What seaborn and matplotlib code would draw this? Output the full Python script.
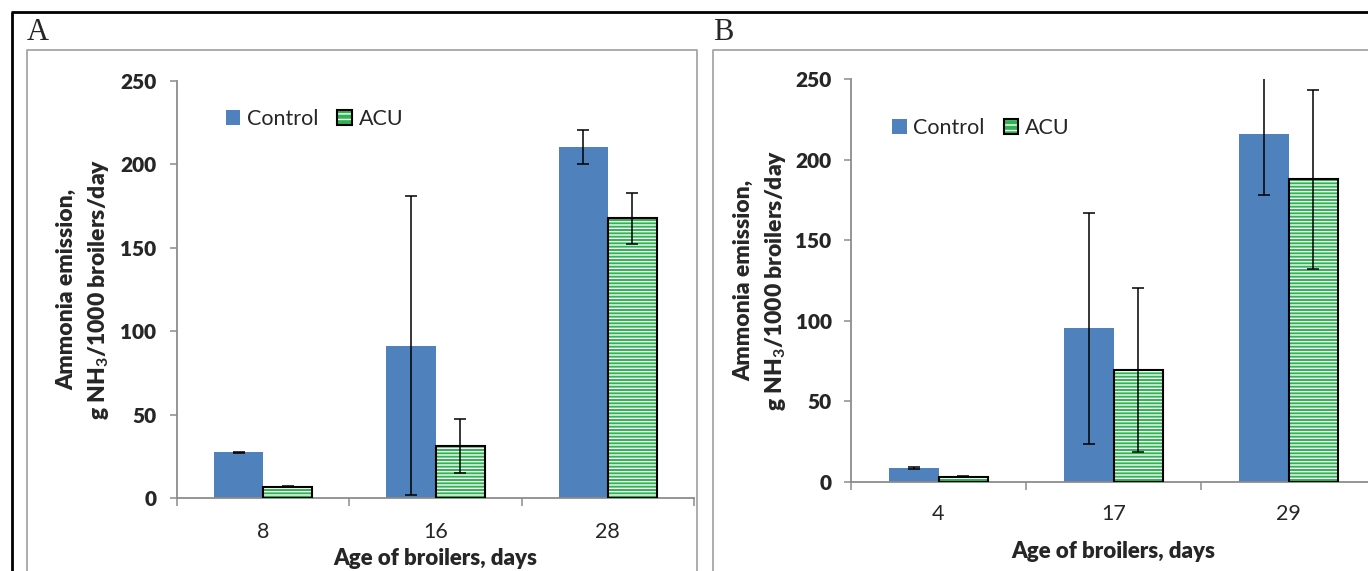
import pandas as pd
import matplotlib
matplotlib.use("Agg")
import matplotlib.pyplot as plt
import seaborn as sns
from matplotlib.patches import Patch, Rectangle
from matplotlib.lines import Line2D

# panel A
ages_a = ["8", "16", "28"]
control_a = [27.3, 91.4, 210.5]
control_a_err = [0.5, 89.7, 10.2]
acu_a = [6.6, 31.0, 167.6]
acu_a_err = [0.3, 16.2, 15.5]

# panel B
ages_b = ["4", "17", "29"]
control_b = [8.8, 95.5, 215.8]
control_b_err = [0.6, 71.8, 37.5]
acu_b = [3.2, 69.7, 188.0]
acu_b_err = [0.2, 51.0, 55.6]

groups = ["Control", "ACU"]
yticks = [0, 50, 100, 150, 200, 250]

BLUE = "#4f81bd"
GREEN = "#2db350"
GRAY = "#8c8c8c"

W, H = 1368, 571

sns.set_style("white")
plt.rcParams["font.family"] = ["Lato", "DejaVu Sans"]
plt.rcParams["mathtext.fontset"] = "custom"
plt.rcParams["mathtext.rm"] = "Lato"
plt.rcParams["mathtext.bf"] = "Lato:bold"
plt.rcParams["hatch.linewidth"] = 1.0

fig = plt.figure(figsize=(W / 100, H / 100), dpi=100)


def box(left, top, right, bottom):
    return [left / W, 1 - bottom / H, (right - left) / W, (bottom - top) / H]


def draw_panel(ax, ages, ctrl, ctrl_err, acu, acu_err, ytick_pad, xtick_pad, xlab_y, ylab_x, leg_pos):
    df = pd.DataFrame({
        "age": ages * 2,
        "value": ctrl + acu,
        "group": ["Control"] * len(ages) + ["ACU"] * len(ages),
    })
    sns.barplot(data=df, x="age", y="value", hue="group", order=ages, hue_order=groups,
                palette=[BLUE, GREEN], width=0.57, errorbar=None, saturation=1,
                linewidth=0, ax=ax, legend=False)

    # striped ACU bars with black outline
    for bar in ax.containers[1]:
        bar.set_facecolor(GREEN)
        bar.set_edgecolor("white")
        bar.set_hatch("-----")
        bar.set_linewidth(0)
        ax.add_patch(Rectangle((bar.get_x(), bar.get_y()), bar.get_width(), bar.get_height(),
                               fill=False, edgecolor="black", linewidth=1.5, zorder=3))

    for cont, err in zip(ax.containers[:2], [ctrl_err, acu_err]):
        xs = [b.get_x() + b.get_width() / 2 for b in cont]
        ys = [b.get_height() for b in cont]
        ax.errorbar(xs, ys, yerr=err, fmt="none", ecolor="black", elinewidth=1.1,
                    capsize=4, capthick=1.1, zorder=4)

    ax.set_ylim(0, 250)
    ax.set_xlim(-0.5, len(ages) - 0.5)
    ax.set_yticks(yticks)
    ax.set_xticks([i - 0.5 for i in range(len(ages) + 1)], minor=True)
    sns.despine(ax=ax)
    for s in ["left", "bottom"]:
        ax.spines[s].set_color(GRAY)
        ax.spines[s].set_linewidth(1.3)
    ax.tick_params(axis="y", which="major", direction="out", length=5, width=1.1,
                   color=GRAY, pad=ytick_pad, left=True, labelsize=15)
    ax.tick_params(axis="x", which="major", length=0, labelsize=15.5, pad=xtick_pad)
    ax.tick_params(axis="x", which="minor", direction="out", length=5.5, width=1.1,
                   color=GRAY, bottom=True)

    ax.set_xlabel("Age of broilers, days", fontsize=16, fontweight="heavy", va="center")
    ax.xaxis.set_label_coords(0.5, xlab_y)
    ax.set_ylabel("Ammonia emission,\ng NH$_\\mathbf{3}$/1000 broilers/day", fontsize=16.5,
                  fontweight="heavy", va="center", ha="center", linespacing=1.45)
    ax.yaxis.set_label_coords(ylab_x, 0.5)

    handles = [
        Patch(facecolor=BLUE, edgecolor="none"),
        (Patch(facecolor=GREEN, edgecolor="white", hatch="---", linewidth=0),
         Patch(fill=False, edgecolor="black", linewidth=1.5)),
    ]
    ax.legend(handles, groups, loc="center left", bbox_to_anchor=leg_pos, ncol=2,
              frameon=False, fontsize=15.5, handlelength=0.68, handleheight=0.68,
              handletextpad=0.3, columnspacing=0.9, borderpad=0, borderaxespad=0)

    # bold y tick labels, set last so nothing resets them
    for tick in ax.yaxis.get_major_ticks():
        tick.label1.set_fontweight("heavy")


ax_a = fig.add_axes(box(177, 81, 694, 498))
draw_panel(ax_a, ages_a, control_a, control_a_err, acu_a, acu_a_err,
           ytick_pad=10, xtick_pad=17, xlab_y=-0.146, ylab_x=-0.18, leg_pos=(0.094, 0.908))

ax_b = fig.add_axes(box(851, 79.4, 1376, 481.8))
draw_panel(ax_b, ages_b, control_b, control_b_err, acu_b, acu_b_err,
           ytick_pad=9, xtick_pad=16, xlab_y=-0.174, ylab_x=-0.172, leg_pos=(0.078, 0.88))


# frame lines in pixel coordinates
def px_line(xs, ys, color, lw):
    fig.add_artist(Line2D([x / W for x in xs], [1 - y / H for y in ys],
                          transform=fig.transFigure, color=color, linewidth=lw,
                          solid_capstyle="butt"))


px_line([11, W], [12, 12], "black", 2)
px_line([12, 12], [12, H], "black", 2)
px_line([27, 27, 697, 697], [H, 50, 50, H], "#a6a6a6", 1.3)
px_line([713, 713, W + 5], [H, 50, 50], "#a6a6a6", 1.3)

fig.text(27 / W, 1 - 32 / H, "A", family="Liberation Serif", fontsize=22, va="center")
fig.text(713 / W, 1 - 32 / H, "B", family="Liberation Serif", fontsize=22, va="center")

fig.savefig("out.png", dpi=100)
